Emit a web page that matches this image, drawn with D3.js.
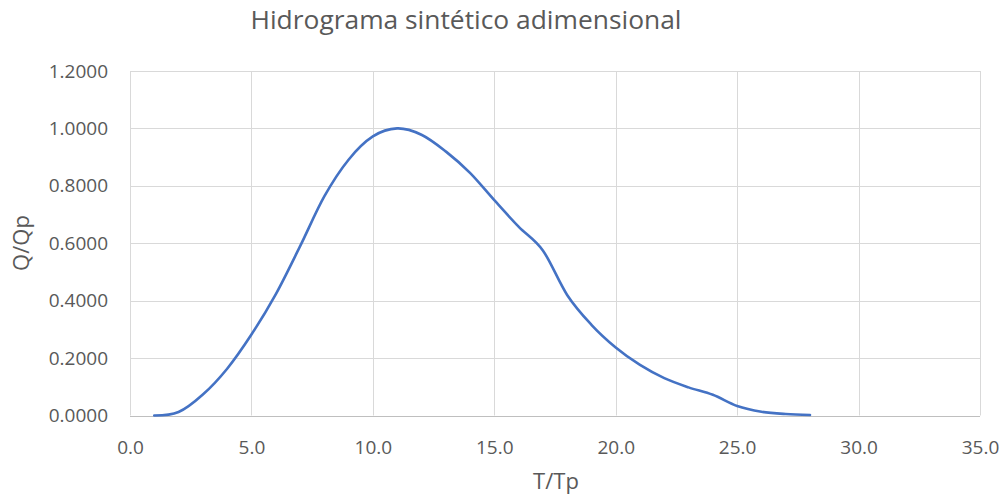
<!DOCTYPE html>
<html>
<head>
<meta charset="utf-8">
<script src="https://cdn.jsdelivr.net/npm/d3@7"></script>
<style>
  body { margin: 0; background: #ffffff; }
  svg { display: block; }
  text { font-family: "Open Sans", "Liberation Sans", sans-serif; fill: #595959; }
</style>
</head>
<body>
<svg id="chart" width="1005" height="498"></svg>
<script>
const title = "Hidrograma sintético adimensional";
const xLabel = "T/Tp";
const yLabel = "Q/Qp";
const xValues = [1, 2, 3, 4, 5, 6, 7, 8, 9, 10, 11, 12, 13, 14, 15, 16, 17, 18, 19, 20, 21, 22, 23, 24, 25, 26, 27, 28];
const yValues = [0.000, 0.012, 0.073, 0.163, 0.282, 0.422, 0.589, 0.763, 0.891, 0.972, 1.000, 0.978, 0.920, 0.845, 0.750, 0.658, 0.575, 0.420, 0.316, 0.237, 0.176, 0.130, 0.098, 0.072, 0.033, 0.013, 0.005, 0.002];
const xTicks = [0, 5, 10, 15, 20, 25, 30, 35];
const yTicks = [0, 0.2, 0.4, 0.6, 0.8, 1.0, 1.2];

const svg = d3.select("#chart");
const m = { left: 130, right: 980, top: 71, bottom: 415.5 };

const x = d3.scaleLinear().domain([0, 35]).range([m.left, m.right]);
const y = d3.scaleLinear().domain([0, 1.2]).range([m.bottom, m.top]);

// gridlines
svg.append("g").selectAll("line").data(yTicks).join("line")
  .attr("x1", m.left).attr("x2", m.right)
  .attr("y1", d => Math.round(y(d)) + 0.5).attr("y2", d => Math.round(y(d)) + 0.5)
  .attr("stroke", d => d === 0 ? "#bfbfbf" : "#d9d9d9").attr("stroke-width", 1);
svg.append("g").selectAll("line").data(xTicks).join("line")
  .attr("y1", m.top).attr("y2", m.bottom)
  .attr("x1", d => Math.round(x(d)) + 0.5).attr("x2", d => Math.round(x(d)) + 0.5)
  .attr("stroke", "#d9d9d9").attr("stroke-width", 1);

// axes (labels only)
const xAxis = d3.axisBottom(x).tickValues(xTicks).tickFormat(d3.format(".1f")).tickSize(0).tickPadding(25);
const gx = svg.append("g").attr("transform", `translate(0,${m.bottom})`).call(xAxis);
gx.select(".domain").remove();
gx.selectAll("text").attr("font-size", 19).attr("fill", "#595959")
  .style("font-family", '"Open Sans", "Liberation Sans", sans-serif');

const yAxis = d3.axisLeft(y).tickValues(yTicks).tickFormat(d3.format(".4f")).tickSize(0).tickPadding(22);
const gy = svg.append("g").attr("transform", `translate(${m.left},0)`).call(yAxis);
gy.select(".domain").remove();
gy.selectAll("text").attr("font-size", 19).attr("fill", "#595959")
  .style("font-family", '"Open Sans", "Liberation Sans", sans-serif');

// series
const data = xValues.map((d, i) => [d, yValues[i]]);
const line = d3.line().x(d => x(d[0])).y(d => y(d[1])).curve(d3.curveCatmullRom.alpha(0));
svg.append("path").datum(data)
  .attr("d", line).attr("fill", "none")
  .attr("stroke", "#4472C4").attr("stroke-width", 2.6)
  .attr("stroke-linejoin", "round").attr("stroke-linecap", "round");

// title
svg.append("text").attr("x", 466).attr("y", 28.5).attr("text-anchor", "middle")
  .attr("font-size", 26).attr("textLength", 431).attr("lengthAdjust", "spacingAndGlyphs")
  .text(title);

// axis titles
svg.append("text").attr("x", 556).attr("y", 489).attr("text-anchor", "middle")
  .attr("font-size", 22).text(xLabel);
svg.append("text").attr("transform", "translate(29,243) rotate(-90)").attr("text-anchor", "middle")
  .attr("font-size", 22).text(yLabel);
</script>
</body>
</html>
